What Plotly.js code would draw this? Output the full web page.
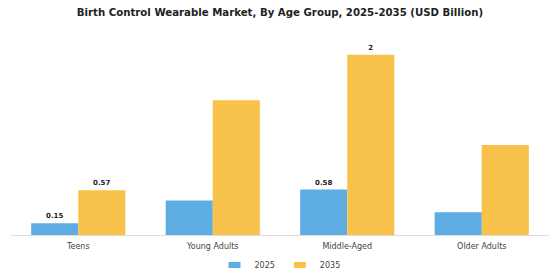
<!DOCTYPE html>
<html>
<head>
<meta charset="utf-8">
<script src="https://cdn.plot.ly/plotly-3.0.1.min.js"></script>
<style>html,body{margin:0;padding:0;background:#fff;}#chart{width:560px;height:280px;}</style>
</head>
<body>
<div id="chart"></div>
<script>
const categories = ["Teens", "Young Adults", "Middle-Aged", "Older Adults"];
const values2025 = [0.15, 0.44, 0.58, 0.29];
const values2035 = [0.57, 1.72, 2.3, 1.15];
const labels2025 = ["0.15", "", "0.58", ""];
const labels2035 = ["0.57", "", "2", ""];

const font = "DejaVu Sans, sans-serif";
const traces = [
  {type: "bar", name: "2025", x: categories, y: values2025, text: labels2025,
   textposition: "outside", cliponaxis: false,
   textfont: {family: font, size: 7, color: "#222", weight: "bold"},
   marker: {color: "#5DADE2"}, hoverinfo: "none"},
  {type: "bar", name: "2035", x: categories, y: values2035, text: labels2035,
   textposition: "outside", cliponaxis: false,
   textfont: {family: font, size: 7, color: "#222", weight: "bold"},
   marker: {color: "#F8C24A"}, hoverinfo: "none"}
];
const layout = {
  width: 560, height: 280,
  margin: {l: 11, r: 11, t: 25, b: 45, autoexpand: false},
  paper_bgcolor: "#fff", plot_bgcolor: "#fff",
  title: {text: "Birth Control Wearable Market, By Age Group, 2025-2035 (USD Billion)",
          font: {family: font, size: 10.2, color: "#222", weight: "bold"},
          x: 0.5, xanchor: "center", y: 0.957, yanchor: "middle"},
  barmode: "group", bargap: 0.3, bargroupgap: 0,
  xaxis: {showline: true, linecolor: "#ddd", linewidth: 1, ticks: "outside", ticklen: 3, tickcolor: "rgba(0,0,0,0)",
          tickfont: {family: font, size: 8, color: "#444"}, showgrid: false},
  yaxis: {range: [0, 2.68], visible: false, showgrid: false, zeroline: false},
  showlegend: true,
  legend: {orientation: "h", x: 0.5, xanchor: "center", xref: "paper",
           yref: "container", y: 0.054, yanchor: "middle", itemwidth: 30,
           font: {family: font, size: 8, color: "#444"}},
  uniformtext: {mode: false}
};
Plotly.newPlot("chart", traces, layout, {displayModeBar: false, staticPlot: true}).then(function (gd) {
  // flatten legend swatches to short wide rectangles as in the reference
  gd.querySelectorAll(".legendpoints path").forEach(function (p) {
    p.setAttribute("d", "M6,3H-6V-3H6Z");
  });
});
</script>
</body>
</html>
